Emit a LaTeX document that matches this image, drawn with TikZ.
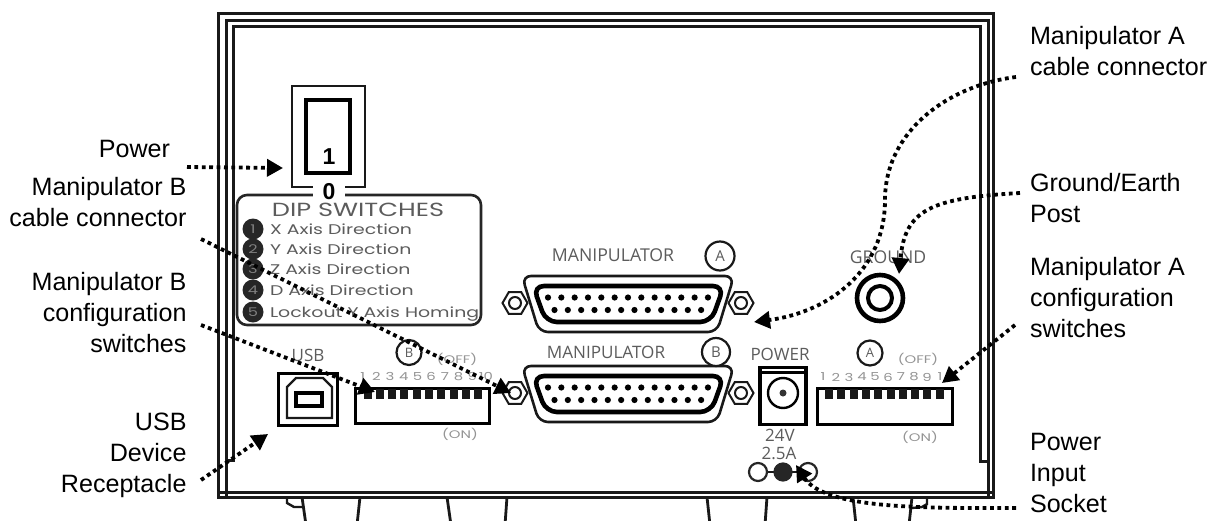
\documentclass[tikz,border=0pt]{standalone}
\usepackage{fontspec}
\usepackage{graphicx}
\setmainfont{Liberation Sans}
\newfontfamily\devfont{Open Sans}
\newfontfamily\dipfont[FakeStretch=1.35]{Poppins}
\usetikzlibrary{arrows.meta,shapes.geometric}
\definecolor{txtgray}{gray}{0.36}
\definecolor{lightgray2}{gray}{0.58}
\tikzset{
  every node/.style={inner sep=0pt,outer sep=0pt},
  callout/.style={font=\fontsize{25.1}{30.7}\selectfont,text=black},
  lblL/.style={callout,align=right,anchor=base east},
  lblR/.style={callout,align=left,anchor=base west},
  leader/.style={line width=3.8pt,dash pattern=on 3.8pt off 3.6pt,
     -{Triangle[length=16pt,width=17pt]},black},
  frameline/.style={line width=3pt,black!90},
  devtext/.style={text=txtgray},
  diptext/.style={anchor=base west,text=txtgray,font=\dipfont\fontsize{14}{15}\selectfont},
  bullet/.style={circle,fill=black!85,minimum size=21pt,text=black!50,font=\dipfont\fontsize{12}{12}\selectfont},
  tagring/.style={circle,draw=black!90,line width=2.2pt,text=txtgray},
  dipnum/.style={text=lightgray2,font=\dipfont\fontsize{11}{11}\selectfont},
  dipnote/.style={text=lightgray2,font=\dipfont\fontsize{11}{11}\selectfont},
  dipbody/.style={draw=black,line width=3.2pt},
  dipcell/.style={fill=black!90,minimum width=8pt,minimum height=10pt},
  screw/.style={regular polygon,regular polygon sides=6,draw=black!90,line width=2pt,minimum size=25pt},
  footline/.style={line width=2.8pt,black!90,fill=white},
}
\newcommand{\dsubconn}[2]{%
  \begin{scope}[shift={(0,#2)}]
    \draw[rounded corners=9pt,line width=2.6pt,black!90] (522,276)--(734,276)--(717,332)--(539,332)--cycle;
    \draw[rounded corners=11pt,line width=4.6pt,black] (533,286)--(724,286)--(711,322)--(546,322)--cycle;
    \foreach \k in {0,...,12}{\fill[black] ({548+13.33*\k},297.5) circle (3.1);}
    \foreach \k in {0,...,11}{\fill[black] ({554.5+13.33*\k},310) circle (3.1);}
    \foreach \sx/\nm in {515/l,741/r}{
      \node[screw] (#1\nm) at (\sx,303) {};
      \draw[black!90,line width=2pt] (\sx,303) circle (6);
    }
  \end{scope}}
\begin{document}
\begin{tikzpicture}[x=1pt,y=-1pt]
\useasboundingbox (0,0) rectangle (1211,520);
\fill[white] (0,0) rectangle (1211,520);
% feet
\draw[footline] (302,497)--(306,525)--(357,525)--(360,497);
\draw[footline] (447,497)--(451,525)--(505,525)--(507,497);
\draw[footline] (707,497)--(710,525)--(765,525)--(767,497);
\draw[footline] (853,497)--(856,525)--(909,525)--(912,497);
\draw[line width=2.4pt,black!90] (287,498)--(287,503)--(294,507)--(302,507);
\draw[line width=2.4pt,black!90] (912,508)--(922,507)--(927,504)--(927,498);
% case
\draw[frameline] (218,13) rectangle (993,497);
\draw[frameline] (226,497)--(226,20)--(988,20)--(988,497);
\draw[frameline] (226,460)--(233,460)--(233,26)--(980,26)--(980,461)--(988,461);
\draw[frameline] (218,492)--(993,492);
% switch
\node[draw=black!90,line width=2.4pt,minimum width=73pt,minimum height=101pt] (swout) at (328.5,136.5) {};
\node[draw=black,line width=3.4pt,minimum width=44pt,minimum height=73pt] (swin) at (328,136.5) {};
\node[font=\fontsize{23}{23}\selectfont\bfseries] (swone) at (329,157) {1};
% dip panel
\node[draw=black!85,line width=2.6pt,rounded corners=10pt,minimum width=244pt,minimum height=130pt] (panel) at (359,260) {};
\node[fill=white,minimum width=32pt,minimum height=18pt,font=\fontsize{23}{23}\selectfont\bfseries] (swzero) at (329,191.5) {0};
\node[text=txtgray,font=\dipfont\fontsize{19}{20}\selectfont] (diptitle) at (358,209.5) {DIP SWITCHES};
\foreach \n/\yy/\tx in {1/229/X Axis Direction,2/249/Y Axis Direction,3/269/Z Axis Direction,4/290/D Axis Direction,5/312/Lockout Y Axis Homing}{
  \node[bullet] (b\n) at (253,\yy) {\n};
  \node[diptext] (bt\n) at (270,\yy+5) {\tx};
}
% D-sub connectors
\dsubconn{ca}{0}
\dsubconn{cb}{90}
\node[devtext,font=\devfont\fontsize{17.7}{18}\selectfont] (mana) at (613,255) {MANIPULATOR};
\node[devtext,font=\devfont\fontsize{17.1}{18}\selectfont] (manb) at (606,352) {MANIPULATOR};
\node[tagring,minimum size=29pt,font=\devfont\fontsize{15}{15}\selectfont] (ta) at (720,256) {A};
\node[tagring,minimum size=28pt,font=\devfont\fontsize{15}{15}\selectfont,fill=white] (tb) at (716,352) {B};
% power
\node[devtext,font=\devfont\fontsize{17}{18}\selectfont] (pow) at (780,354) {POWER};
\node[draw=black,line width=3.2pt,minimum width=46pt,minimum height=57pt] (jack) at (783,396) {};
\draw[black,line width=2.4pt] (jack.north west)++(0,5)--++(46,0);
\draw[black,line width=2.4pt] (783,393) circle (15);
\fill[black!80] (783,393) circle (3.5);
\node[devtext,font=\devfont\fontsize{17}{18}\selectfont] (v24) at (780,435) {24V};
\node[devtext,font=\devfont\fontsize{17}{18}\selectfont] (a25) at (779,453) {2.5A};
\draw[black!90,line width=2.4pt] (767,472)--(808,472);
\node[circle,draw=black!85,line width=2.2pt,fill=white,minimum size=18pt] (sa) at (758,472) {};
\node[circle,draw=black!85,line width=2.2pt,fill=black!85,minimum size=17pt] (sb) at (783,472) {};
\node[circle,draw=black!85,line width=2.2pt,minimum size=18pt] (sc) at (808,472) {};
% usb
\node[devtext,font=\devfont\fontsize{17}{18}\selectfont] (usbt) at (308,355) {USB};
\node[draw=black,line width=3.4pt,minimum width=59pt,minimum height=52pt] (usb) at (308,399.5) {};
\draw[black!90,line width=2.4pt] (287,418)--(287,387)--(296,378)--(323,378)--(332,387)--(332,418)--cycle;
\node[draw=black,line width=4pt,minimum width=26pt,minimum height=13pt] (usbi) at (308.5,399.5) {};
% dip B
\node[tagring,minimum size=25pt,font=\devfont\fontsize{13}{13}\selectfont] (tc) at (409,352.5) {B};
\node[dipnote] (offb) at (457,359) {(OFF)};
\node[dipnote] (onb) at (460,434) {(ON)};
\node[dipbody,minimum width=134pt,minimum height=35pt] (dipb) at (422.5,406) {};
\foreach \k in {1,...,10}{
  \node[dipnum] (nb\k) at ({349+13.7*\k},376.5) {\k};
}
\foreach \k in {0,...,9}{
  \node[dipcell] (cellb\k) at ({367.5+12.3*\k},393.5) {};
}
% dip A
\node[tagring,minimum size=25pt,font=\devfont\fontsize{13}{13}\selectfont] (td) at (870,353) {A};
\node[dipnote] (offa) at (918,359) {(OFF)};
\node[dipnote] (ona) at (920,437) {(ON)};
\node[dipbody,minimum width=135pt,minimum height=36pt] (dipa) at (885,406.5) {};
\foreach \k/\lb in {1/1,2/2,3/3,4/4,5/5,6/6,7/7,8/8,9/9,10/1}{
  \node[dipnum] (na\k) at ({810+13*\k},377) {\lb};
}
\foreach \k in {0,...,9}{
  \node[dipcell] (cella\k) at ({829+12.3*\k},393.5) {};
}
% ground
\node[devtext,font=\devfont\fontsize{17.6}{18}\selectfont] (gnd) at (888,257) {GROUND};
\node[circle,draw=black,line width=4.6pt,minimum size=46pt] (postO) at (880,298) {};
\node[circle,draw=black,line width=4pt,minimum size=24pt] (postI) at (880,298) {};
% callouts
\node[lblL] (power) at (170,157) {Power};
\node[lblL] (mbc) at (186.5,226) {Manipulator B\\cable connector};
\node[lblL] (mbs) at (186.5,352) {Manipulator B\\configuration\\switches};
\node[lblL] (usbl) at (186.5,492) {USB\\Device\\Receptacle};
\node[lblR] (mac) at (1030,75) {Manipulator A\\cable connector};
\node[lblR] (gep) at (1030,222) {Ground/Earth\\Post};
\node[lblR] (mas) at (1030,337) {Manipulator A\\configuration\\switches};
\node[lblR] (pis) at (1030,512) {Power\\Input\\Socket};
% leader ends
\coordinate (s1) at (187,167); \coordinate (e1) at (283,168);
\coordinate (s2) at (201,239); \coordinate (e2) at (511,393);
\coordinate (s3) at (201,325); \coordinate (e3) at (375,392);
\coordinate (s4) at (201,480); \coordinate (e4) at (268,434);
\coordinate (s5) at (1016,77); \coordinate (m5) at (885,200); \coordinate (e5) at (754,322);
\coordinate (s6) at (1020,193); \coordinate (e6) at (899,274);
\coordinate (s7) at (1015,325); \coordinate (e7) at (942,383);
\coordinate (s8) at (1016,508); \coordinate (e8) at (796,465);
\draw[leader] (s1) -- (e1);
\draw[leader] (s2) -- (e2);
\draw[leader] (s3) -- (e3);
\draw[leader] (s4) -- (e4);
\draw[leader] (s5) .. controls (950,85) and (885,130) .. (m5) .. controls (885,270) and (830,312) .. (e5);
\draw[leader] (s6) .. controls (930,198) and (905,210) .. (e6);
\draw[leader] (s7) -- (e7);
\draw[leader] (s8) .. controls (930,508) and (825,510) .. (e8);
\end{tikzpicture}
\end{document}
